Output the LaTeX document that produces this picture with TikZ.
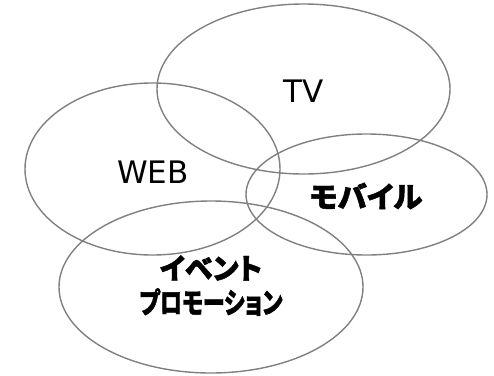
\documentclass[tikz,border=0pt]{standalone}
\usepackage{fontspec}
\setmainfont{DejaVu Sans}
\newfontfamily\jp[RawFeature=+palt, BoldFeatures={FakeBold=1.5}]{Noto Sans CJK JP}
\usetikzlibrary{shapes.geometric}
\definecolor{ring}{HTML}{808080}
\tikzset{
  ring/.style={draw=ring, line width=1.4pt},
  latin/.style={font=\fontsize{31}{36}\selectfont},
  kana/.style={font=\jp\bfseries\fontsize{29}{34}\selectfont, inner sep=0pt}
}
\begin{document}
\begin{tikzpicture}[x=1pt,y=-1pt]
\useasboundingbox (0,0) rectangle (494,375);
\draw[ring] (303.5,89) ellipse [x radius=146.5, y radius=85];
\draw[ring] (152.5,169) ellipse [x radius=127.5, y radius=86];
\draw[ring] (366.5,194.5) ellipse [x radius=120.5, y radius=60.5];
\draw[ring] (211,287) ellipse [x radius=152, y radius=86];
\node[latin] (tv) at (304,91) {TV};
\node[latin] (web) at (153,172) {WEB};
\node[kana] (mob) at (366,196) {\scalebox{1.02}[1]{モバイル}};
\node[kana] (ev1) at (211,268) {\scalebox{0.97}[1]{イベント}};
\node[kana] (ev2) at (211,302) {\scalebox{0.76}[1]{プロモーション}};
\end{tikzpicture}
\end{document}
